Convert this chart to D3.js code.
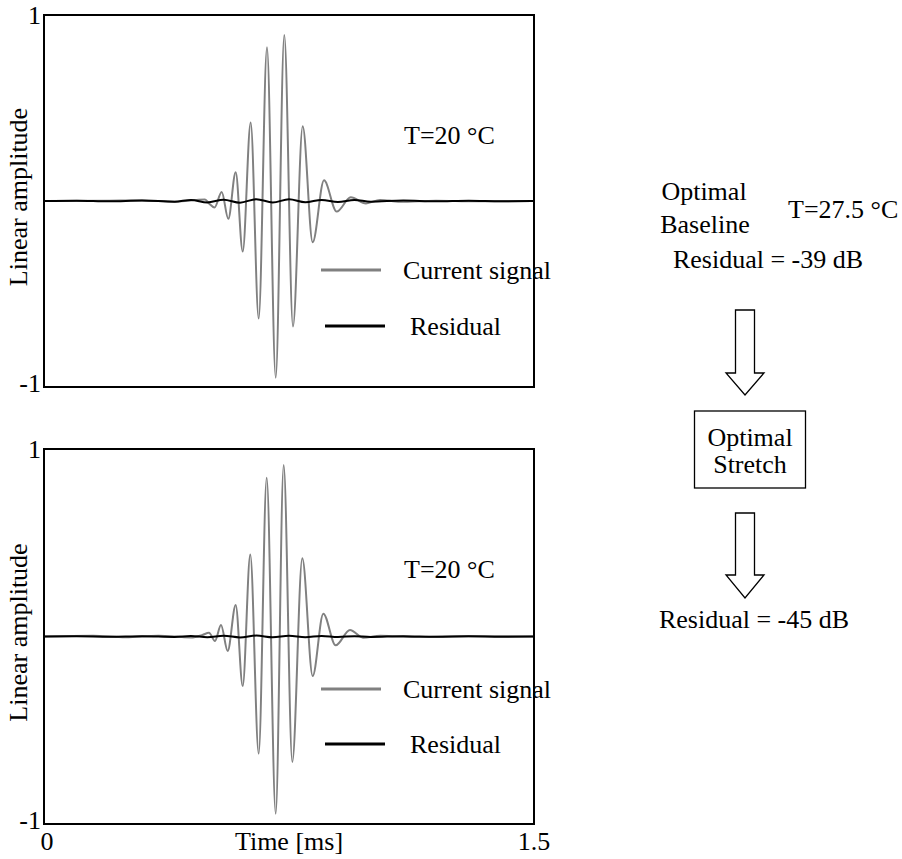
<!DOCTYPE html>
<html>
<head>
<meta charset="utf-8">
<script src="https://cdn.jsdelivr.net/npm/d3@7"></script>
<style>
  body { margin: 0; background: #fff; }
  svg { font-family: "Liberation Serif", "Times New Roman", serif; }
</style>
</head>
<body>
<div id="chart"></div>
<script>
// time [ms] and linear amplitude (extrema of the burst)
const timeTop = [0, 0.20, 0.30, 0.40, 0.4929, 0.5051, 0.5219, 0.5440, 0.5642, 0.5868, 0.6083, 0.6327,
  0.6572, 0.6826, 0.7093, 0.7356, 0.7622, 0.7919, 0.8225, 0.8571, 0.8960, 0.9389, 0.9857,
  1.0286, 1.0898, 1.20, 1.32, 1.5];
const signalTop = [0, 0.002, 0.003, -0.004, 0.008, -0.013, -0.035, 0.049, -0.096, 0.155, -0.272, 0.422,
  -0.632, 0.826, -0.950, 0.892, -0.675, 0.402, -0.222, 0.111, -0.057, 0.020, -0.013,
  0.006, -0.004, 0.002, -0.002, 0];

const timeBottom = [0, 0.15, 0.25, 0.35, 0.45, 0.4850, 0.5051, 0.5234, 0.5418, 0.5623, 0.5868, 0.6083,
  0.6315, 0.6572, 0.6817, 0.7093, 0.7337, 0.7601, 0.7907, 0.8225, 0.8550, 0.8929, 0.9367,
  0.9765, 1.03, 1.15, 1.30, 1.5];
const signalBottom = [0, 0.004, -0.004, 0.004, -0.005, 0.008, 0.020, -0.024, 0.061, -0.077, 0.168, -0.264,
  0.438, -0.625, 0.847, -0.945, 0.915, -0.669, 0.417, -0.211, 0.122, -0.047, 0.035,
  -0.006, 0.004, -0.003, 0.002, 0];

// residual after compensation, small wiggles round zero
const timeResidual = [0, 0.10, 0.20, 0.30, 0.40, 0.45, 0.50, 0.55, 0.60, 0.65, 0.70, 0.75,
  0.80, 0.85, 0.90, 0.95, 1.00, 1.10, 1.20, 1.30, 1.40, 1.5];
const residualTop = [0, 0.002, -0.002, 0.003, -0.004, 0.006, -0.008, 0.007, -0.009, 0.010, -0.008, 0.009,
  -0.007, 0.006, -0.005, 0.006, -0.004, 0.003, -0.002, 0.002, -0.001, 0];
const residualBottom = [0, 0.001, -0.001, 0.002, -0.002, 0.003, -0.004, 0.004, -0.005, 0.005, -0.004, 0.004,
  -0.004, 0.003, -0.003, 0.002, -0.002, 0.002, -0.001, 0.001, -0.001, 0];

const xTicks = [0, 1.5];
const xTickLabels = ["0", "1.5"];
const yTicks = [1, -1];
const yTickLabels = ["1", "-1"];

const width = 902, height = 859;
const fontSize = 26;

const svg = d3.select("#chart")
  .append("svg")
  .attr("width", width)
  .attr("height", height);

const x = d3.scaleLinear()
  .domain([0, 1.5])
  .range([44, 534]);

const panels = [
  { top: 15, bottom: 387, time: timeTop, signal: signalTop, residual: residualTop,
    legendSignal: 270, legendResidual: 326 },
  { top: 449, bottom: 824, time: timeBottom, signal: signalBottom, residual: residualBottom,
    legendSignal: 689, legendResidual: 744 }
];

panels.forEach((p, i) => {
  let y = d3.scaleLinear()
    .domain([-1, 1])
    .range([p.bottom, p.top]);

  let line = d3.line()
    .x(d => x(d[0]))
    .y(d => y(d[1]))
    .curve(d3.curveMonotoneX);

  let g = svg.append("g");

  g.append("path")
    .datum(d3.zip(p.time, p.signal))
    .attr("fill", "none")
    .attr("stroke", "#808080")
    .attr("stroke-width", 2)
    .attr("d", line);

  g.append("path")
    .datum(d3.zip(timeResidual, p.residual))
    .attr("fill", "none")
    .attr("stroke", "#000")
    .attr("stroke-width", 2)
    .attr("d", line);

  // frame
  g.append("rect")
    .attr("x", x(0))
    .attr("y", y(1))
    .attr("width", x(1.5) - x(0))
    .attr("height", y(-1) - y(1))
    .attr("fill", "none")
    .attr("stroke", "#000")
    .attr("stroke-width", 2);

  yTicks.forEach((t, k) => {
    g.append("text")
      .text(yTickLabels[k])
      .attr("x", x(0) - 3)
      .attr("y", y(t) + (t < 0 ? -4 : 0))
      .attr("text-anchor", "end")
      .attr("dominant-baseline", "central")
      .attr("font-size", fontSize);
  });

  g.append("text")
    .text("Linear amplitude")
    .attr("transform", `translate(18,${y(0) - 4}) rotate(-90)`)
    .attr("text-anchor", "middle")
    .attr("dominant-baseline", "central")
    .attr("font-size", fontSize);

  g.append("text")
    .text("T=20 °C")
    .attr("x", 404)
    .attr("y", p.top + 129)
    .attr("font-size", fontSize);

  // legend
  g.append("line")
    .attr("x1", 321).attr("x2", 381)
    .attr("y1", p.legendSignal).attr("y2", p.legendSignal)
    .attr("stroke", "#808080")
    .attr("stroke-width", 3);
  g.append("text")
    .text("Current signal")
    .attr("x", 403)
    .attr("y", p.legendSignal)
    .attr("dominant-baseline", "central")
    .attr("font-size", fontSize);

  g.append("line")
    .attr("x1", 325).attr("x2", 385)
    .attr("y1", p.legendResidual).attr("y2", p.legendResidual)
    .attr("stroke", "#000")
    .attr("stroke-width", 3);
  g.append("text")
    .text("Residual")
    .attr("x", 410)
    .attr("y", p.legendResidual)
    .attr("dominant-baseline", "central")
    .attr("font-size", fontSize);
});

// x axis labels under the bottom panel
xTicks.forEach((t, k) => {
  svg.append("text")
    .text(xTickLabels[k])
    .attr("x", x(t) + (t === 0 ? 3 : 0))
    .attr("y", 850)
    .attr("text-anchor", "middle")
    .attr("font-size", fontSize);
});
svg.append("text")
  .text("Time [ms]")
  .attr("x", (x(0) + x(1.5)) / 2)
  .attr("y", 850)
  .attr("text-anchor", "middle")
  .attr("font-size", fontSize);

// right-hand process diagram
const notes = [
  { text: "Optimal", x: 704, y: 200, anchor: "middle" },
  { text: "Baseline", x: 705, y: 233, anchor: "middle" },
  { text: "T=27.5 °C", x: 788, y: 218, anchor: "start" },
  { text: "Residual = -39 dB", x: 768, y: 268, anchor: "middle" },
  { text: "Optimal", x: 750, y: 446, anchor: "middle" },
  { text: "Stretch", x: 750, y: 473, anchor: "middle" },
  { text: "Residual = -45 dB", x: 754, y: 628, anchor: "middle" }
];
svg.selectAll("text.note")
  .data(notes)
  .join("text")
  .attr("class", "note")
  .text(d => d.text)
  .attr("x", d => d.x)
  .attr("y", d => d.y)
  .attr("text-anchor", d => d.anchor)
  .attr("font-size", fontSize);

svg.append("rect")
  .attr("x", 694.5)
  .attr("y", 411)
  .attr("width", 111)
  .attr("height", 77)
  .attr("fill", "none")
  .attr("stroke", "#000")
  .attr("stroke-width", 1.3);

function arrow(cx, top, headTop, tip) {
  const sw = 9.5, hw = 19;
  return `M${cx - sw},${top} L${cx + sw},${top} L${cx + sw},${headTop} L${cx + hw},${headTop}
    L${cx},${tip} L${cx - hw},${headTop} L${cx - sw},${headTop} Z`;
}
[[745, 310, 373, 395], [745, 513, 575, 598]].forEach(a => {
  svg.append("path")
    .attr("d", arrow(...a))
    .attr("fill", "#fff")
    .attr("stroke", "#000")
    .attr("stroke-width", 1.3);
});
</script>
</body>
</html>
